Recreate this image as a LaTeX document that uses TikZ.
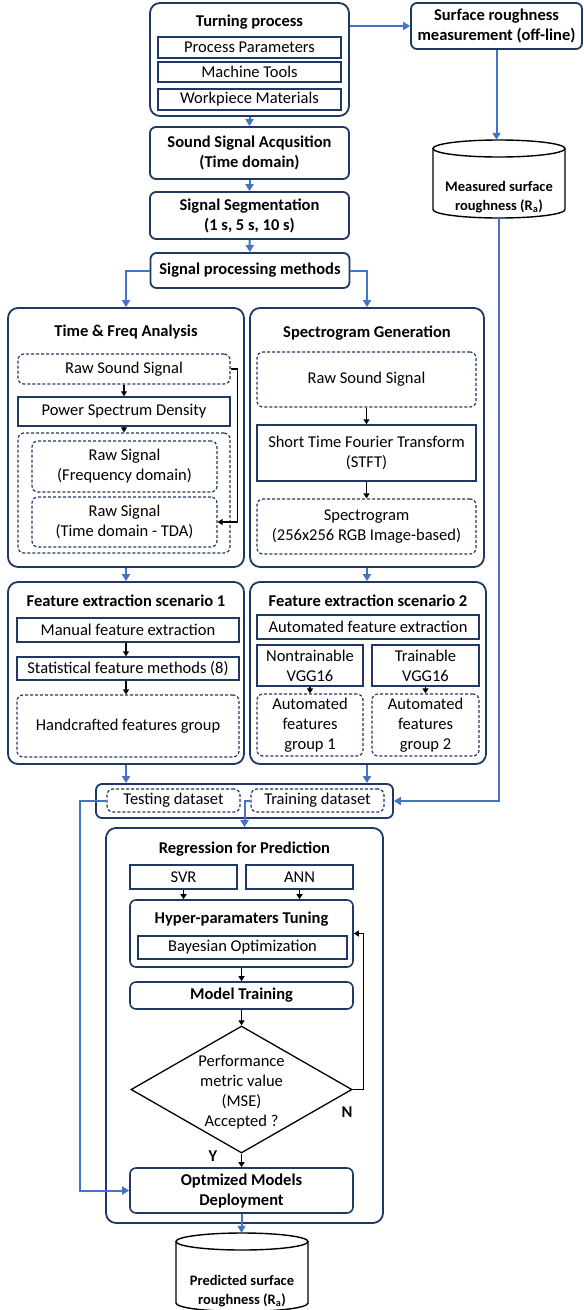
\documentclass[tikz,border=0pt]{standalone}
\usepackage{fontspec}
\setmainfont{Carlito}
\usetikzlibrary{arrows.meta,shapes.geometric,calc}
\definecolor{navy}{HTML}{1F3864}
\definecolor{lblue}{HTML}{4472C4}
\newcommand\mytxt{\fontsize{16.5}{20}\selectfont}
\newcommand\mysmall{\fontsize{14.5}{19}\selectfont}
\tikzset{
  base/.style={inner sep=0pt, align=center, font=\mytxt, text=black},
  ttl/.style={base, font=\mytxt\bfseries},
  outer/.style={base, draw=navy, line width=1.8pt, rounded corners=10pt, fill=white},
  midbox/.style={base, draw=navy, line width=1.6pt, rounded corners=6pt, fill=white},
  inbox/.style={base, draw=navy, line width=1.5pt},
  dbox/.style={base, draw=navy, line width=1.2pt, dash pattern=on 3pt off 2pt, rounded corners=6pt},
  ghost/.style={inner sep=0pt},
  barrow/.style={draw=lblue, line width=2pt, -{Triangle[length=7pt,width=8pt]}},
  karrow/.style={draw=black, line width=1.6pt, -{Triangle[length=5pt,width=6pt]}},
  cyl/.style={draw=black, line width=1.4pt},
}
\begin{document}
\begin{tikzpicture}[x=1pt,y=-1pt]
\useasboundingbox (0,0) rectangle (584,1310);

% ---------- top column ----------
\node[outer, minimum width=199pt, minimum height=113pt] (turning) at (249.5,59.5) {};
\node[ttl] (turningT) at (249.5,22) {Turning process};
\node[inbox, minimum width=183pt, minimum height=21pt] (pp) at (249.5,47.5) {Process Parameters};
\node[inbox, minimum width=183pt, minimum height=20pt] (mtool) at (249.5,72) {Machine Tools};
\node[inbox, minimum width=183pt, minimum height=21pt] (wm) at (249.5,99.5) {Workpiece Materials};

\node[outer, font=\mytxt\bfseries, rounded corners=6pt, minimum width=171pt, minimum height=46pt] (surf) at (496.5,26) {Surface roughness\\measurement (off-line)};

\node[outer, font=\mytxt\bfseries, rounded corners=6pt, minimum width=199pt, minimum height=52pt] (sound) at (249.5,153) {Sound Signal Acqusition\\(Time domain)};
\node[outer, font=\mytxt\bfseries, rounded corners=6pt, minimum width=199pt, minimum height=47pt] (seg) at (249.5,215.5) {Signal Segmentation\\(1 s, 5 s, 10 s)};
\node[outer, font=\mytxt\bfseries, rounded corners=6pt, minimum width=199pt, minimum height=35pt] (spm) at (250,270.5) {Signal processing methods};

% measured cylinder
\node[ghost, minimum width=132pt, minimum height=78pt] (meas) at (499,179) {};
\draw[cyl, fill=white] (433,148.5) -- (433,209.5) arc[start angle=180, end angle=360, x radius=66pt, y radius=8.5pt] -- (565,148.5);
\draw[cyl] (499,148.5) ellipse [x radius=66pt, y radius=8.5pt];
\node[base, font=\mysmall\bfseries] (measT) at (499,197) {Measured surface\\roughness (R\textsubscript{a})};

% ---------- Time & Freq ----------
\node[outer, minimum width=236pt, minimum height=259pt] (tf) at (126,437.5) {};
\node[ttl] (tfT) at (126,332) {Time \& Freq Analysis};
\node[dbox, minimum width=212pt, minimum height=30pt] (rs1) at (124,369) {Raw Sound Signal};
\node[inbox, minimum width=212pt, minimum height=29pt] (psd) at (124,411.5) {Power Spectrum Density};
\node[dbox, minimum width=212pt, minimum height=120pt] (grp) at (124,493) {};
\node[dbox, minimum width=185pt, minimum height=51pt] (rsf) at (124.5,466.5) {Raw Signal\\(Frequency domain)};
\node[dbox, minimum width=185pt, minimum height=50pt] (rst) at (124.5,522) {Raw Signal\\(Time domain - TDA)};

% ---------- Spectrogram ----------
\node[outer, minimum width=234pt, minimum height=259pt] (sg) at (367,437.5) {};
\node[ttl] (sgT) at (367,333) {Spectrogram Generation};
\node[dbox, minimum width=219pt, minimum height=55pt] (rs2) at (366.5,379.5) {Raw Sound Signal};
\node[inbox, minimum width=219pt, minimum height=56pt] (stft) at (366.5,453) {Short Time Fourier Transform\\(STFT)};
\node[dbox, minimum width=219pt, minimum height=55pt] (spec) at (366.5,526.5) {Spectrogram\\(256x256 RGB Image-based)};

% ---------- Feature extraction 1 ----------
\node[outer, minimum width=236pt, minimum height=182pt] (fe1) at (126,673) {};
\node[ttl] (fe1T) at (126,601) {Feature extraction scenario 1};
\node[inbox, minimum width=222pt, minimum height=24pt] (mfe) at (128,630) {Manual feature extraction};
\node[inbox, minimum width=222pt, minimum height=23pt] (sfm) at (128,668.5) {Statistical feature methods (8)};
\node[dbox, minimum width=222pt, minimum height=62pt] (hfg) at (128,726) {Handcrafted features group};

% ---------- Feature extraction 2 ----------
\node[outer, minimum width=236pt, minimum height=182pt] (fe2) at (368,673) {};
\node[ttl] (fe2T) at (368,601) {Feature extraction scenario 2};
\node[inbox, minimum width=222pt, minimum height=24pt] (afe) at (368,627) {Automated feature extraction};
\node[inbox, minimum width=106pt, minimum height=41pt] (ntr) at (310,665.5) {Nontrainable\\VGG16};
\node[inbox, minimum width=107pt, minimum height=41pt] (trn) at (425.5,665.5) {Trainable\\VGG16};
\node[dbox, minimum width=106pt, minimum height=62pt] (g1) at (310,725) {Automated\\features\\group 1};
\node[dbox, minimum width=107pt, minimum height=62pt] (g2) at (425.5,725) {Automated\\features\\group 2};

% ---------- datasets ----------
\node[outer, rounded corners=6pt, minimum width=297pt, minimum height=34pt] (ds) at (244.5,801) {};
\node[dbox, minimum width=133pt, minimum height=23pt] (test) at (173.5,800.5) {Testing dataset};
\node[dbox, minimum width=133pt, minimum height=23pt] (train) at (317.5,800.5) {Training dataset};

% ---------- Regression ----------
\node[outer, minimum width=277pt, minimum height=395pt] (reg) at (244.5,1025.5) {};
\node[ttl] (regT) at (244.5,849) {Regression for Prediction};
\node[inbox, minimum width=107pt, minimum height=24pt] (svr) at (183.5,877) {SVR};
\node[inbox, minimum width=107pt, minimum height=24pt] (ann) at (299.5,877) {ANN};
\node[midbox, minimum width=223pt, minimum height=67pt] (hyp) at (241.5,933.5) {};
\node[ttl] (hypT) at (241.5,919) {Hyper-paramaters Tuning};
\node[inbox, minimum width=209pt, minimum height=23pt] (bay) at (242.5,947.5) {Bayesian Optimization};
\node[midbox, font=\mytxt\bfseries, minimum width=223pt, minimum height=27pt] (mtr) at (241.5,995.5) {Model Training};
\node[diamond, draw=black, line width=1.3pt, inner sep=0pt, minimum width=221pt, minimum height=127pt] (dia) at (241.5,1089.5) {};
\node[base] (diaT) at (241.5,1092) {Performance\\metric value\\(MSE)\\Accepted ?};
\node[ttl] (nlab) at (347,1112) {N};
\node[ttl] (ylab) at (213,1156) {Y};
\node[midbox, font=\mytxt\bfseries, minimum width=223pt, minimum height=45pt] (dep) at (241.5,1190.5) {Optmized Models\\Deployment};

% predicted cylinder
\node[ghost, minimum width=132pt, minimum height=77pt] (pred) at (242,1271.5) {};
\draw[cyl, fill=white] (176,1241.5) -- (176,1303) arc[start angle=180, end angle=360, x radius=66pt, y radius=8.5pt] -- (308,1241.5);
\draw[cyl] (242,1241.5) ellipse [x radius=66pt, y radius=8.5pt];
\node[base, font=\mysmall\bfseries] (predT) at (242,1291) {Predicted surface\\roughness (R\textsubscript{a})};

% ---------- blue connectors ----------
\draw[barrow] (turning.east |- surf.west) -- (surf.west);
\draw[barrow] (surf.south) -- (surf.south |- meas.north);
\draw[barrow] (turning.south) -- (sound.north);
\draw[barrow] (sound.south) -- (seg.north);
\draw[barrow] (seg.south) -- (spm.north);
\draw[barrow] (spm.west) -| (tf.north);
\draw[barrow] (spm.east) -| (sg.north);
\draw[barrow] (tf.south) -- (fe1.north);
\draw[barrow] (sg.south) -- (sg.south |- fe2.north);
\draw[barrow] (fe1.south) -- (fe1.south |- ds.north);
\draw[barrow] (fe2.south -| sg.south) -- (sg.south |- ds.north);
\draw[barrow] (meas.south) |- (ds.east);
\draw[barrow] (test.west) -- ++(-26,0) |- (dep.west);
\draw[barrow] (train.west) -| (reg.north);
\draw[barrow] (dep.south) -- (dep.south |- pred.north);

% ---------- black connectors ----------
\draw[karrow] (rs1.south) -- (psd.north);
\draw[karrow] (psd.south) -- (grp.north);
\draw[karrow] (rs1.east) -- ++(7,0) |- (rst.east);
\draw[karrow] (rs2.south) -- (stft.north);
\draw[karrow] (stft.south) -- (spec.north);
\draw[karrow] (mfe.south -| tf.south) -- (sfm.north -| tf.south);
\draw[karrow] (sfm.south -| tf.south) -- (hfg.north -| tf.south);
\draw[karrow] (ntr.south) -- (g1.north);
\draw[karrow] (trn.south) -- (g2.north);
\draw[karrow] (svr.south) -- (svr.south |- hyp.north);
\draw[karrow] (ann.south) -- (ann.south |- hyp.north);
\draw[karrow] (hyp.south) -- (mtr.north);
\draw[karrow] (mtr.south) -- (dia.north);
\draw[karrow] (dia.south) -- (dep.north);
\draw[karrow] (dia.east) -- ++(11,0) |- (hyp.east);
\end{tikzpicture}
\end{document}
